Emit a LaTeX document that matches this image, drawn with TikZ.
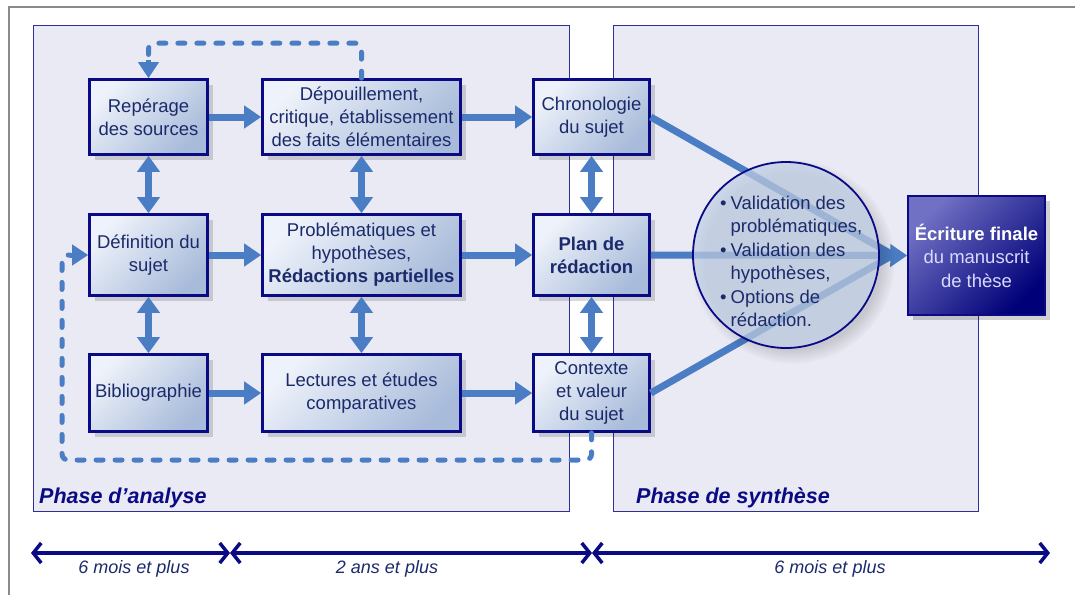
\documentclass[tikz,border=0pt]{standalone}
\usepackage{fontspec}
\setmainfont{Liberation Sans}
\usetikzlibrary{arrows.meta, shadows, positioning, calc}
\definecolor{marine}{HTML}{0A0A85}
\definecolor{bleufleche}{HTML}{4A7DC4}
\definecolor{textebleu}{HTML}{1B2A6B}
\definecolor{fondphase}{HTML}{EAEAF4}
\definecolor{boxclair}{HTML}{EEF2FA}
\definecolor{boxfonce}{HTML}{A8BBDA}
\definecolor{bulle}{HTML}{C3D1E8}
\definecolor{finclair}{HTML}{7070C4}
\definecolor{finmilieu}{HTML}{0C0C8C}
\definecolor{finfonce}{HTML}{000078}
\definecolor{cadre}{HTML}{8A8A8A}

\begin{document}
\begin{tikzpicture}[
    x=1pt, y=-1pt,
    box/.style={rectangle, draw=marine, line width=2.6pt, top color=boxclair, bottom color=boxfonce, shading angle=45, text=textebleu, align=center, inner sep=2pt, font=\fontsize{18.5}{23}\selectfont, drop shadow={shadow xshift=5pt, shadow yshift=-5pt, opacity=0.15, fill=black}},
    phase/.style={rectangle, draw=marine!85, line width=1.2pt, fill=fondphase, inner sep=0pt},
    titre/.style={text=marine, font=\fontsize{21.5}{26}\selectfont\bfseries\itshape, anchor=base west, inner sep=0pt},
    fleche/.style={draw=bleufleche, line width=7pt, -{Triangle[width=22pt, length=17pt]}},
    vaetvient/.style={draw=bleufleche, line width=7pt, {Triangle[width=22pt, length=16pt]}-{Triangle[width=22pt, length=16pt]}},
    trait/.style={draw=bleufleche, line width=7pt},
    pointilles/.style={draw=bleufleche, line width=5pt, dash pattern=on 7pt off 12pt, line cap=round, rounded corners=6pt},
    pointe/.style={draw=bleufleche, line width=5pt, -{Triangle[width=20pt, length=16pt]}},
    bulle/.style={circle, draw=marine, line width=1.8pt, fill=bulle, fill opacity=0.72, draw opacity=1, inner sep=0pt, circular drop shadow={shadow xshift=6pt, shadow yshift=-6pt, opacity=0.15, fill=black}},
    final/.style={rectangle, draw=marine, line width=1.5pt, top color=finclair, middle color=finmilieu, bottom color=finfonce, shading angle=45, text=white!85!blue, align=center, font=\fontsize{18.5}{23.5}\selectfont, drop shadow={shadow xshift=5pt, shadow yshift=-5pt, opacity=0.18, fill=black}},
    duree/.style={draw=marine, line width=3.5pt, {Straight Barb[length=8pt, width=20pt]}-{Straight Barb[length=8pt, width=20pt]}},
    etiquette/.style={text=textebleu, font=\fontsize{18}{22}\selectfont\itshape, anchor=base, inner sep=0pt},
]
\useasboundingbox (0,0) rectangle (1075,595);

% Cadre
\draw[cadre, line width=2pt] (9,595) -- (9,7) -- (1075,7);

% Phases
\node[phase, minimum width=536pt, minimum height=486pt] (analyse) at (301.5,268.5) {};
\node[phase, minimum width=365pt, minimum height=486pt] (synthese) at (796,268.5) {};
\node[titre] (tanalyse) at (39,503) {Phase d’analyse};
\node[titre] (tsynthese) at (636,503) {Phase de synthèse};

% Premiere ligne
\node[box, minimum width=118pt, minimum height=75pt] (reperage) at (148.5,117) {Repérage\\des sources};
\node[box, minimum width=198pt, minimum height=75pt] (depouil) at (361.5,117) {Dépouillement,\\critique, établissement\\des faits élémentaires};
\node[box, minimum width=116pt, minimum height=75pt] (chrono) at (591.5,117) {Chronologie\\du sujet};

% Deuxieme ligne
\node[box, minimum width=118pt, minimum height=81pt] (definition) at (148.5,255) {Définition du\\sujet};
\node[box, minimum width=198pt, minimum height=81pt] (problem) at (361.5,255) {Problématiques et\\hypothèses,\\\textbf{Rédactions partielles}};
\node[box, minimum width=116pt, minimum height=81pt] (plan) at (591.5,255) {\textbf{Plan de}\\\textbf{rédaction}};

% Troisieme ligne
\node[box, minimum width=118pt, minimum height=77pt] (biblio) at (148.5,393) {Bibliographie};
\node[box, minimum width=198pt, minimum height=77pt] (lectures) at (361.5,393) {Lectures et études\\comparatives};
\node[box, minimum width=116pt, minimum height=77pt] (contexte) at (591.5,393) {Contexte\\et valeur\\du sujet};

% Fleches horizontales
\draw[fleche] (reperage) -- (depouil);
\draw[fleche] (depouil) -- (chrono);
\draw[fleche] (definition) -- (problem);
\draw[fleche] (problem) -- (plan);
\draw[fleche] (biblio) -- (lectures);
\draw[fleche] (lectures) -- (contexte);

% Fleches verticales
\draw[vaetvient] (reperage) -- (definition);
\draw[vaetvient] (definition) -- (biblio);
\draw[vaetvient] (depouil) -- (problem);
\draw[vaetvient] (problem) -- (lectures);
\draw[vaetvient] (chrono) -- (plan);
\draw[vaetvient] (plan) -- (contexte);

% Boucles en pointilles
\coordinate (haut) at ($(reperage.north)+(0,-18)$);
\coordinate (gauche) at ($(definition.west)+(-18,0)$);
\coordinate (retour) at (62,460);
\draw[pointilles] (depouil.north) -- ++(0,-35) -| (haut);
\draw[pointe] (haut) -- (reperage.north);
\draw[pointilles] (contexte.south) |- (retour) |- (gauche);
\draw[pointe] (gauche) -- (definition.west);

% Ecriture finale
\node[final, minimum width=137pt, minimum height=119pt] (ecriture) at (976.5,255.5) {{\color{white}\textbf{Écriture finale}}\\du manuscrit\\de thèse};

% Convergence
\coordinate (jonction) at (893,255);
\draw[trait] (chrono.east) -- (jonction);
\draw[trait] (contexte.east) -- (jonction);
\draw[fleche] (plan.east) -- (ecriture.west);

% Validation
\node[bulle, minimum size=186pt] (validation) at (786,255) {};
\node[anchor=base west, text=textebleu, inner sep=0pt, font=\fontsize{18.5}{23.5}\selectfont] (valtexte) at (720,209)
  {\begin{tabular}[t]{@{}l@{\hspace{4pt}}l@{}}\textbullet & Validation des\\ & problématiques,\\ \textbullet & Validation des\\ & hypothèses,\\ \textbullet & Options de\\ & rédaction.\end{tabular}};

% Duree
\coordinate (t0) at (31,553);
\coordinate (t1) at (230,553);
\coordinate (t2) at (592,553);
\coordinate (t3) at (1050,553);
\draw[duree] (t0) -- (t1);
\draw[duree] (t1) -- (t2);
\draw[duree] (t2) -- (t3);
\node[etiquette] (d1) at (134,573) {6 mois et plus};
\node[etiquette] (d2) at (387,573) {2 ans et plus};
\node[etiquette] (d3) at (830,573) {6 mois et plus};

\end{tikzpicture}
\end{document}
